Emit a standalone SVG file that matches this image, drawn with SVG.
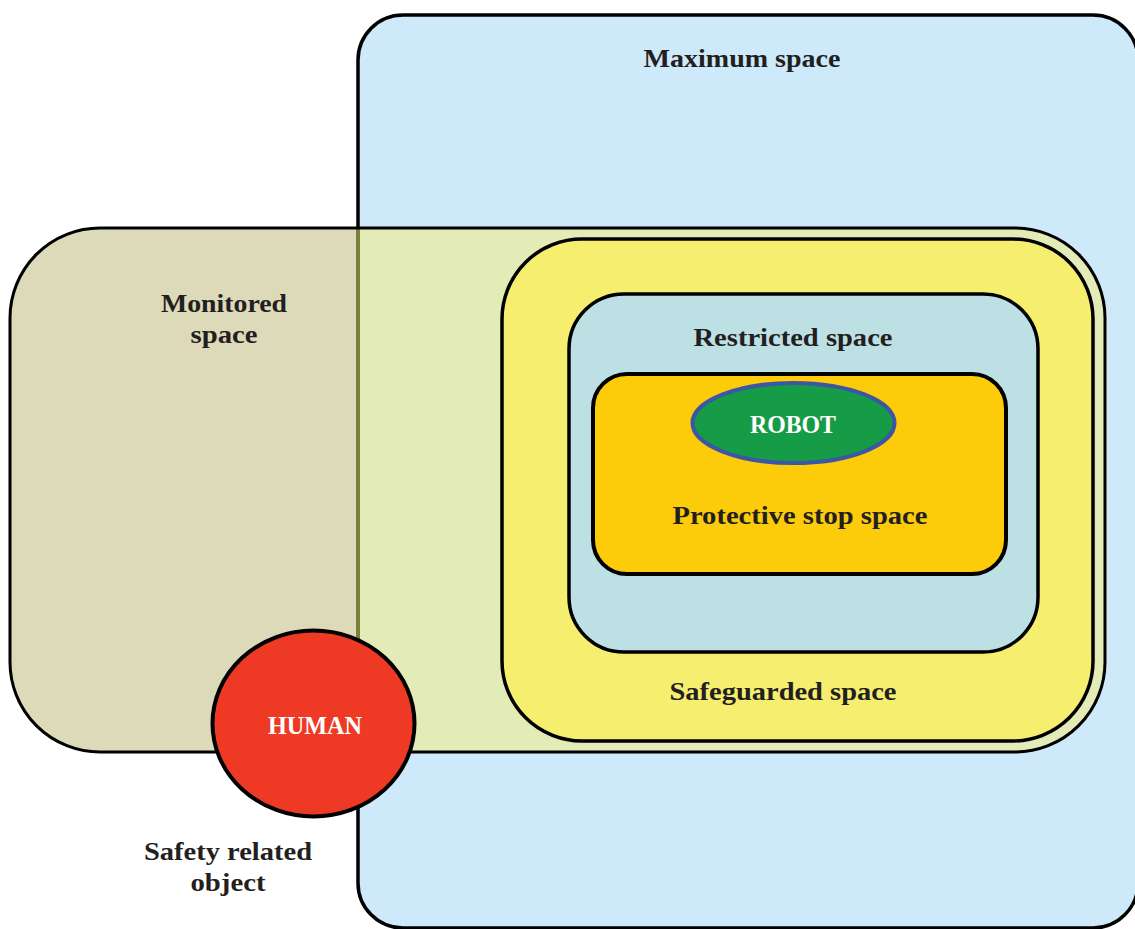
<svg xmlns="http://www.w3.org/2000/svg" width="1135" height="929" viewBox="0 0 1135 929">
<style>
.lbl{font-family:"Liberation Serif","DejaVu Serif",serif;font-weight:bold;font-size:26px;fill:#231f20;text-anchor:middle}
.wht{fill:#ffffff}
.stk{stroke:#000;stroke-width:3.5}
</style>
<defs>
<clipPath id="clipMax"><rect x="358" y="0" width="800" height="929"/></clipPath>
</defs>
<rect width="1135" height="929" fill="#ffffff"/>
<g id="maximum-space">
<rect x="358" y="15" width="780" height="913" rx="45" ry="45" fill="#cde9fa" class="stk"/>
<text class="lbl" x="742" y="67" textLength="197" lengthAdjust="spacingAndGlyphs">Maximum space</text>
</g>
<g id="monitored-space">
<rect x="10" y="228" width="1095" height="524" rx="90" ry="90" fill="#dcdab9"/>
<rect x="10" y="228" width="1095" height="524" rx="90" ry="90" fill="#e3ebb6" clip-path="url(#clipMax)"/>
<line x1="358" y1="229" x2="358" y2="751" stroke="#7d7d3c" stroke-width="4"/>
<rect x="10" y="228" width="1095" height="524" rx="90" ry="90" fill="none" stroke="#000" stroke-width="3"/>
<text class="lbl" x="224" y="312" textLength="126" lengthAdjust="spacingAndGlyphs">Monitored</text>
<text class="lbl" x="224" y="343" textLength="67" lengthAdjust="spacingAndGlyphs">space</text>
</g>
<g id="safeguarded-space">
<rect x="502" y="239" width="591" height="502" rx="80" ry="80" fill="#f5ee6e" class="stk"/>
<text class="lbl" x="783" y="700" textLength="227" lengthAdjust="spacingAndGlyphs">Safeguarded space</text>
</g>
<g id="restricted-space">
<rect x="569" y="294" width="469" height="358" rx="55" ry="55" fill="#bde0e5" class="stk"/>
<text class="lbl" x="793" y="346" textLength="199" lengthAdjust="spacingAndGlyphs">Restricted space</text>
</g>
<g id="protective-stop-space">
<rect x="593" y="374" width="413" height="200" rx="34" ry="34" fill="#fccb0a" stroke="#000" stroke-width="4"/>
<text class="lbl" x="800" y="524" textLength="255" lengthAdjust="spacingAndGlyphs">Protective stop space</text>
</g>
<g id="robot">
<ellipse cx="793.5" cy="423" rx="101" ry="40" fill="#169b47" stroke="#3c55a5" stroke-width="4"/>
<text class="lbl wht" x="793" y="433" textLength="86" lengthAdjust="spacingAndGlyphs">ROBOT</text>
</g>
<g id="human">
<ellipse cx="313.5" cy="723.5" rx="101" ry="93" fill="#ee3a24" stroke="#000" stroke-width="4"/>
<text class="lbl wht" x="315" y="734" textLength="94" lengthAdjust="spacingAndGlyphs">HUMAN</text>
</g>
<g id="safety-related-object">
<text class="lbl" x="228" y="860" textLength="168" lengthAdjust="spacingAndGlyphs">Safety related</text>
<text class="lbl" x="228" y="891" textLength="75" lengthAdjust="spacingAndGlyphs">object</text>
</g>
<g id="connectors"></g>
</svg>
